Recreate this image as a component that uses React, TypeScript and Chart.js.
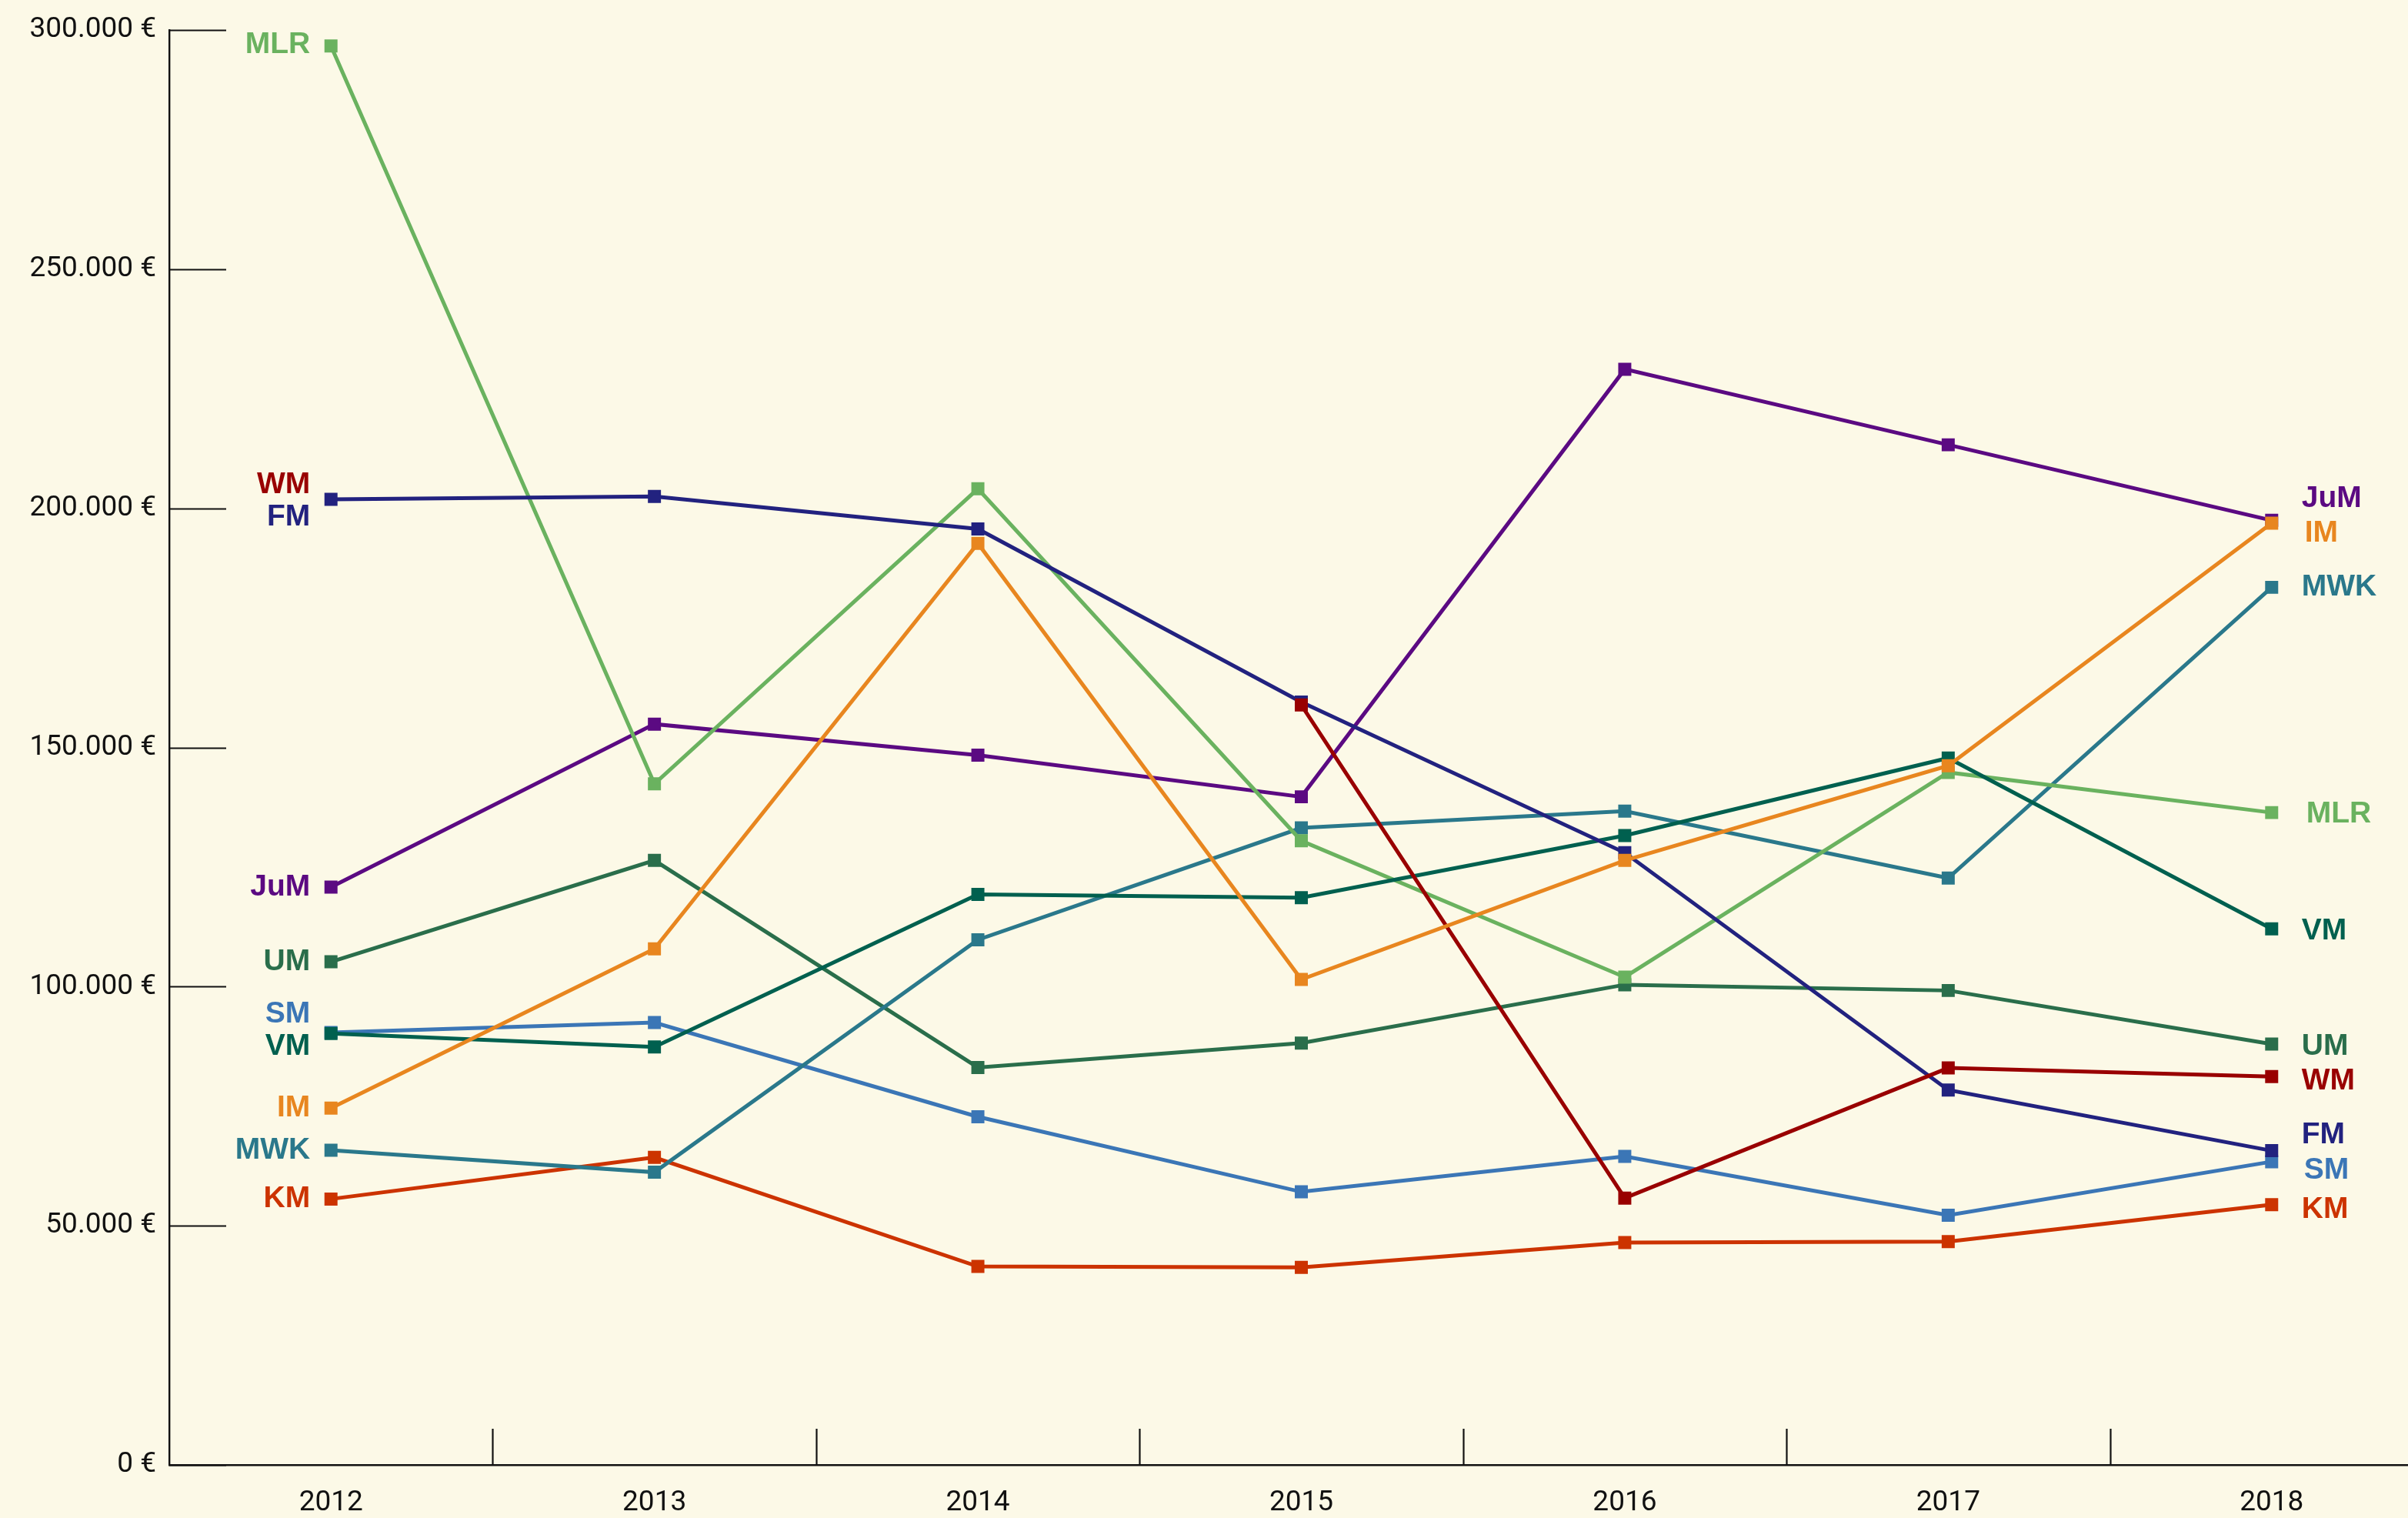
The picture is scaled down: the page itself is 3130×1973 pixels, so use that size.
import React, { useEffect, useRef } from 'react';
import { Chart, registerables } from 'chart.js';

Chart.register(...registerables);

// ---------- data ----------
const YEARS = ['2012', '2013', '2014', '2015', '2016', '2017', '2018'];
const Y_TICKS = [0, 50000, 100000, 150000, 200000, 250000, 300000];

const MLR = [296700, 142400, 204100, 130500, 102000, 144800, 136400];
const FM = [201900, 202500, 195700, 159500, 128000, 78400, 65700];
const WM = [null, null, null, 158900, 55800, 83000, 81200];
const JuM = [120800, 154900, 148400, 139700, 229100, 213300, 197500];
const UM = [105200, 126400, 83100, 88200, 100400, 99200, 88000];
const SM = [90400, 92500, 72800, 57100, 64500, 52200, 63400];
const VM = [90200, 87400, 119300, 118600, 131600, 147800, 112100];
const IM = [74600, 107900, 192700, 101500, 126400, 146200, 196900];
const MWK = [65800, 61200, 109800, 133200, 136700, 122700, 183500];
const KM = [55600, 64300, 41500, 41300, 46500, 46700, 54400];

// drawing order: first = on top
const SERIES_NAMES = ['IM', 'WM', 'FM', 'VM', 'MLR', 'JuM', 'MWK', 'UM', 'SM', 'KM'];
const SERIES_VALUES: Record<string, (number | null)[]> = { IM, WM, FM, VM, MLR, JuM, MWK, UM, SM, KM };
const SERIES_COLORS: Record<string, string> = {
  MLR: '#6ab25f',
  FM: '#22227f',
  WM: '#990000',
  JuM: '#5b0a82',
  UM: '#2a6e4b',
  SM: '#3b76b6',
  VM: '#00604f',
  IM: '#e8861f',
  MWK: '#2a788b',
  KM: '#cc3300',
};

// label layout (pixel nudges to avoid overlaps)
const LEFT_LABEL_DY: Record<string, number> = { MLR: -1, WM: -19, FM: 23, JuM: 0, UM: 0, SM: -24, VM: 17, IM: 0, MWK: 0, KM: 0 };
const RIGHT_LABEL_DY: Record<string, number> = { JuM: -28, IM: 13, MWK: 0, MLR: 2, VM: 3, UM: 3, WM: 6, FM: -20, SM: 11, KM: 6 };
const RIGHT_LABEL_DX: Record<string, number> = { IM: 4, MLR: 6, SM: 3 };
// WM has no 2012 value: its left label sits by FM's 2012 point
const LEFT_LABEL_ANCHOR: Record<string, string> = { WM: 'FM' };

const BG = '#fcf9e7';
const AXIS = '#111111';

const fmtEuro = (v: number) => String(v).replace(/\B(?=(\d{3})+(?!\d))/g, '.') + ' €';

const innerTicks = {
  id: 'innerTicks',
  beforeDatasetsDraw(chart: any) {
    const { ctx, chartArea } = chart;
    const xs = chart.scales.x;
    const ys = chart.scales.y;
    ctx.save();
    ctx.strokeStyle = AXIS;
    ctx.lineWidth = 2.2;
    ys.ticks.forEach((t: any) => {
      const y = Math.round(ys.getPixelForValue(t.value)) + 0.5;
      ctx.beginPath();
      ctx.moveTo(chartArea.left, y);
      ctx.lineTo(chartArea.left + 74, y);
      ctx.stroke();
    });
    for (let i = 1; i < YEARS.length; i++) {
      const x = Math.round((xs.getPixelForValue(i - 1) + xs.getPixelForValue(i)) / 2) + 0.5;
      ctx.beginPath();
      ctx.moveTo(x, chartArea.bottom);
      ctx.lineTo(x, chartArea.bottom - 47);
      ctx.stroke();
    }
    ctx.restore();
  },
};

const seriesLabels = {
  id: 'seriesLabels',
  afterDatasetsDraw(chart: any) {
    const { ctx } = chart;
    const xs = chart.scales.x;
    const ys = chart.scales.y;
    const last = YEARS.length - 1;
    ctx.save();
    ctx.font = 'bold 39px "Liberation Sans", Arial, Helvetica, sans-serif';
    ctx.textBaseline = 'middle';
    SERIES_NAMES.forEach((name) => {
      const vals = SERIES_VALUES[name];
      ctx.fillStyle = SERIES_COLORS[name];
      const anchorVals = LEFT_LABEL_ANCHOR[name] ? SERIES_VALUES[LEFT_LABEL_ANCHOR[name]] : vals;
      const v0 = anchorVals[0];
      if (v0 != null) {
        ctx.textAlign = 'right';
        ctx.fillText(name, xs.getPixelForValue(0) - 27, ys.getPixelForValue(v0) + (LEFT_LABEL_DY[name] || 0));
      }
      const vn = vals[last];
      if (vn != null) {
        ctx.textAlign = 'left';
        ctx.fillText(
          name,
          xs.getPixelForValue(last) + 39 + (RIGHT_LABEL_DX[name] || 0),
          ys.getPixelForValue(vn) + (RIGHT_LABEL_DY[name] || 0)
        );
      }
    });
    ctx.restore();
  },
};

export default function App() {
  const ref = useRef<HTMLCanvasElement | null>(null);

  useEffect(() => {
    document.body.style.margin = '0';
    document.body.style.overflow = 'hidden';
    document.body.style.background = BG;
    const canvas = ref.current;
    if (!canvas) return;
    const chart = new Chart(canvas, {
      type: 'line',
      data: {
        labels: YEARS,
        datasets: SERIES_NAMES.map((name) => ({
          label: name,
          data: SERIES_VALUES[name],
          borderColor: SERIES_COLORS[name],
          backgroundColor: SERIES_COLORS[name],
          borderWidth: 5,
          pointStyle: 'rect',
          pointRadius: 12,
          pointBorderWidth: 0,
          pointBackgroundColor: SERIES_COLORS[name],
          tension: 0,
          spanGaps: false,
          fill: false,
        })),
      },
      options: {
        responsive: false,
        animation: false,
        devicePixelRatio: 1,
        layout: { padding: { top: 33, right: 37, bottom: 0, left: 0 } },
        plugins: {
          legend: { display: false },
          tooltip: { enabled: false },
          title: { display: false },
        },
        scales: {
          x: {
            type: 'category',
            offset: true,
            grid: { display: false, drawTicks: false },
            border: { display: true, color: AXIS, width: 2.4 },
            ticks: {
              color: '#111',
              padding: 28,
              maxRotation: 0,
              autoSkip: false,
              font: { family: 'Roboto, "Liberation Sans", sans-serif', size: 37, weight: 'normal' },
            },
            afterFit: (scale: any) => {
              scale.height = 69;
            },
          },
          y: {
            type: 'linear',
            min: 0,
            max: 300000,
            afterBuildTicks: (scale: any) => {
              scale.ticks = Y_TICKS.map((v) => ({ value: v }));
            },
            grid: { display: false, drawTicks: false },
            border: { display: true, color: AXIS, width: 2.4 },
            ticks: {
              color: '#111',
              padding: 17,
              callback: (v: any) => fmtEuro(Number(v)),
              font: { family: 'Roboto, "Liberation Sans", sans-serif', size: 37, weight: 'normal' },
            },
            afterFit: (scale: any) => {
              scale.width = 220;
            },
          },
        },
      },
      plugins: [innerTicks, seriesLabels],
    } as any);
    return () => chart.destroy();
  }, []);

  return (
    <div
      style={{
        position: 'fixed',
        left: 0,
        top: 0,
        width: 3130,
        height: 1973,
        overflow: 'hidden',
        background: BG,
      }}
    >
      <canvas ref={ref} width={3200} height={1973} style={{ width: 3200, height: 1973, display: 'block' }} />
    </div>
  );
}
